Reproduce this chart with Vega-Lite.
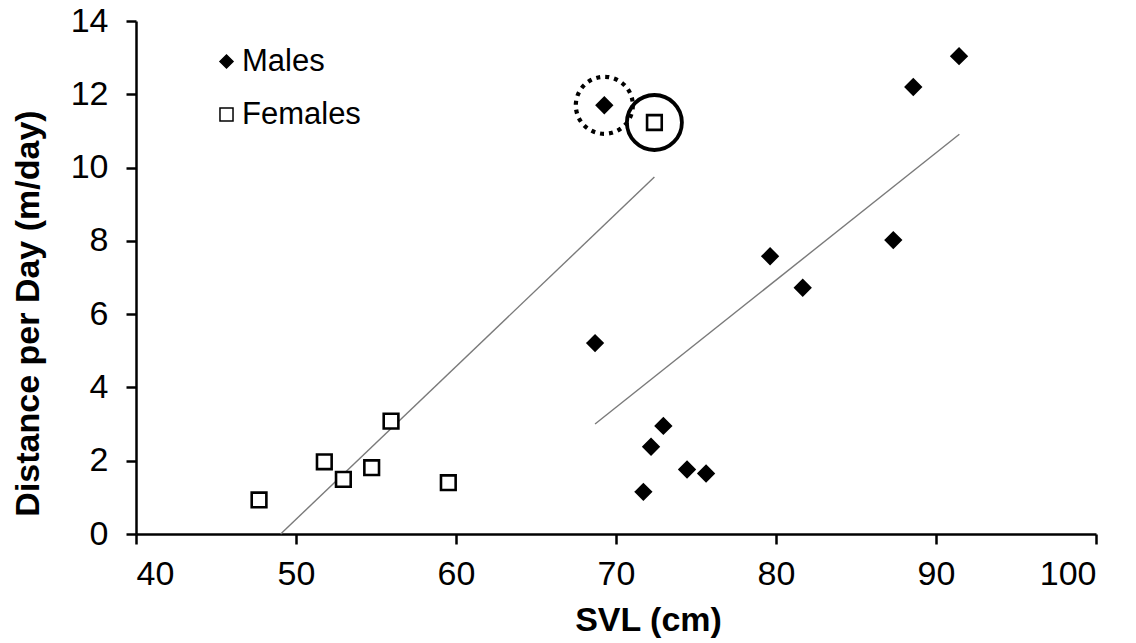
{
  "$schema": "https://vega.github.io/schema/vega-lite/v6.json",
  "autosize": "none",
  "width": 960,
  "height": 513,
  "padding": {"left": 136, "top": 21, "right": 40, "bottom": 109},
  "background": "white",
  "config": {
    "view": {"stroke": null},
    "font": "Liberation Sans",
    "axis": {
      "grid": false,
      "domainColor": "black",
      "domainWidth": 2.5,
      "tickColor": "black",
      "tickWidth": 2.5,
      "tickSize": 10,
      "labelColor": "black",
      "labelFont": "Liberation Sans",
      "labelFontSize": 34,
      "titleColor": "black",
      "titleFont": "Liberation Sans",
      "titleFontSize": 34,
      "titleFontWeight": "bold"
    }
  },
  "datasets": {
    "points": [
      {"svl": 69.27, "dist": 11.70, "sex": "Males"},
      {"svl": 88.58, "dist": 12.20, "sex": "Males"},
      {"svl": 91.44, "dist": 13.04, "sex": "Males"},
      {"svl": 87.33, "dist": 8.02, "sex": "Males"},
      {"svl": 79.63, "dist": 7.58, "sex": "Males"},
      {"svl": 81.67, "dist": 6.72, "sex": "Males"},
      {"svl": 68.69, "dist": 5.21, "sex": "Males"},
      {"svl": 72.96, "dist": 2.95, "sex": "Males"},
      {"svl": 72.19, "dist": 2.38, "sex": "Males"},
      {"svl": 74.44, "dist": 1.76, "sex": "Males"},
      {"svl": 75.63, "dist": 1.65, "sex": "Males"},
      {"svl": 71.71, "dist": 1.15, "sex": "Males"},
      {"svl": 72.40, "dist": 11.23, "sex": "Females"},
      {"svl": 55.94, "dist": 3.08, "sex": "Females"},
      {"svl": 51.77, "dist": 1.97, "sex": "Females"},
      {"svl": 54.73, "dist": 1.81, "sex": "Females"},
      {"svl": 52.96, "dist": 1.49, "sex": "Females"},
      {"svl": 59.52, "dist": 1.40, "sex": "Females"},
      {"svl": 47.69, "dist": 0.93, "sex": "Females"}
    ],
    "trends": [
      {"svl": 49.04, "dist": 0.0, "sex": "Females"},
      {"svl": 72.40, "dist": 9.74, "sex": "Females"},
      {"svl": 68.69, "dist": 3.00, "sex": "Males"},
      {"svl": 91.46, "dist": 10.91, "sex": "Males"}
    ]
  },
  "encoding": {
    "x": {
      "field": "svl",
      "type": "quantitative",
      "scale": {"domain": [40, 100], "nice": false, "zero": false},
      "axis": {
        "values": [40, 50, 60, 70, 80, 90, 100],
        "labelPadding": 13,
        "title": "SVL (cm)",
        "titleX": 512,
        "titleY": 96,
        "titleBaseline": "alphabetic",
        "titleAlign": "center"
      }
    },
    "y": {
      "field": "dist",
      "type": "quantitative",
      "scale": {"domain": [0, 14], "nice": false, "zero": true},
      "axis": {
        "values": [0, 2, 4, 6, 8, 10, 12, 14],
        "labelPadding": 18,
        "title": "Distance per Day (m/day)",
        "titleX": -108,
        "titleY": 292,
        "titleAngle": -90,
        "titleBaseline": "middle",
        "titleAlign": "center"
      }
    }
  },
  "layer": [
    {
      "data": {"name": "trends"},
      "mark": {"type": "line", "color": "#7a7a7a", "strokeWidth": 1.4},
      "encoding": {"detail": {"field": "sex", "type": "nominal"}}
    },
    {
      "data": {"name": "points"},
      "mark": {"type": "point", "filled": true, "stroke": "black", "strokeWidth": 2.6, "opacity": 1, "size": 215},
      "encoding": {
        "shape": {
          "field": "sex",
          "type": "nominal",
          "scale": {"domain": ["Males", "Females"], "range": ["diamond", "square"]},
          "legend": {
            "title": null,
            "orient": "none",
            "legendX": 75,
            "legendY": 25,
            "padding": 0,
            "symbolSize": 170,
            "labelFontSize": 31,
            "labelFont": "Liberation Sans",
            "labelColor": "black",
            "labelOffset": 0,
            "rowPadding": 21,
            "encode": {
              "symbols": {
                "update": {
                  "stroke": {"value": "black"},
                  "strokeWidth": {"value": 2.5},
                  "opacity": {"value": 1}
                }
              }
            }
          }
        },
        "fill": {
          "field": "sex",
          "type": "nominal",
          "scale": {"domain": ["Males", "Females"], "range": ["black", "white"]},
          "legend": {
            "title": null,
            "orient": "none",
            "legendX": 75,
            "legendY": 25,
            "padding": 0,
            "symbolSize": 170,
            "labelFontSize": 31,
            "labelFont": "Liberation Sans",
            "labelColor": "black",
            "labelOffset": 0,
            "rowPadding": 21,
            "encode": {
              "symbols": {
                "update": {
                  "stroke": {"value": "black"},
                  "strokeWidth": {"value": 2.5},
                  "opacity": {"value": 1}
                }
              }
            }
          }
        }
      }
    },
    {
      "data": {"values": [{"svl": 69.27, "dist": 11.70}]},
      "mark": {"type": "point", "shape": "circle", "filled": false, "stroke": "black", "strokeWidth": 4.2, "strokeDash": [4, 5], "opacity": 1, "size": 3250}
    },
    {
      "data": {"values": [{"svl": 72.40, "dist": 11.23}]},
      "mark": {"type": "point", "shape": "circle", "filled": false, "stroke": "black", "strokeWidth": 3.8, "opacity": 1, "size": 3025}
    }
  ]
}
